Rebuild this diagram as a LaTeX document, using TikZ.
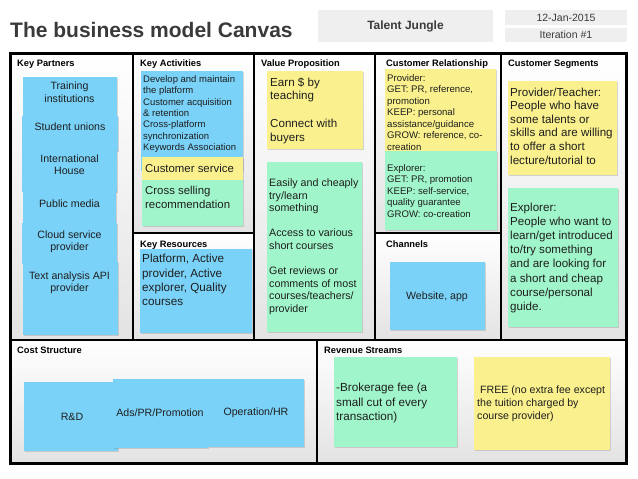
\documentclass[tikz,border=0pt]{standalone}
\usepackage{fontspec}
\setmainfont{Liberation Sans}
\usetikzlibrary{shadows}
\definecolor{noteblue}{RGB}{122,210,248}
\definecolor{noteyellow}{RGB}{250,241,142}
\definecolor{notegreen}{RGB}{160,246,202}
\definecolor{notetext}{RGB}{30,30,30}
\definecolor{titlegray}{RGB}{58,58,58}
\definecolor{boxgray}{RGB}{239,239,239}
\begin{document}
\begin{tikzpicture}[x=1pt,y=-1pt,
  note/.style={inner sep=0pt, outer sep=0pt, anchor=north west,
    drop shadow={opacity=0.3, shadow xshift=1pt, shadow yshift=-1.2pt}},
  bluenote/.style={note, fill=noteblue},
  yellownote/.style={note, fill=noteyellow},
  greennote/.style={note, fill=notegreen},
  txt/.style={inner sep=0pt, anchor=north west, align=left, text=notetext},
  stxt/.style={inner sep=0pt, anchor=base west, text=notetext},
  ctxt/.style={inner sep=0pt, align=center, text=notetext},
  head/.style={inner sep=0pt, anchor=base west, font=\fontsize{9.3}{11}\selectfont\bfseries},
  cellbg/.style={top color=white, bottom color=black!11},
  frame/.style={line width=3pt, draw=black},
  divider/.style={line width=2pt, draw=black},
  hbox/.style={fill=boxgray, inner sep=0pt, text=titlegray}
]
\useasboundingbox (0,0) rectangle (638,479);

% header
\node[inner sep=0pt, anchor=base west, text=titlegray, font=\fontsize{21}{25}\selectfont\bfseries] (title) at (10,37) {The business model Canvas};
\node[hbox, minimum width=175pt, minimum height=32pt, font=\fontsize{12}{14}\selectfont\bfseries] (proj) at (405.5,26) {Talent Jungle};
\node[hbox, minimum width=122pt, minimum height=15pt, font=\fontsize{10.5}{12}\selectfont] (date) at (566,17.5) {12-Jan-2015};
\node[hbox, minimum width=122pt, minimum height=14pt, font=\fontsize{10.5}{12}\selectfont] (iter) at (566,35) {Iteration \#1};

% cell backgrounds
\fill[cellbg] (10,53) rectangle (133,340);
\fill[cellbg] (133,53) rectangle (254,233);
\fill[cellbg] (133,233) rectangle (254,340);
\fill[cellbg] (254,53) rectangle (375,340);
\fill[cellbg] (375,53) rectangle (501,233);
\fill[cellbg] (375,233) rectangle (501,340);
\fill[cellbg] (501,53) rectangle (626,340);
\fill[cellbg] (10,340) rectangle (317,463);
\fill[cellbg] (317,340) rectangle (626,463);

% dividers
\draw[divider] (133,53) -- (133,340);
\draw[divider] (254,53) -- (254,340);
\draw[divider] (375,53) -- (375,340);
\draw[divider] (501,53) -- (501,340);
\draw[divider] (133,233) -- (254,233);
\draw[divider] (375,233) -- (501,233);
\draw[divider] (10,340) -- (626,340);
\draw[divider] (317,340) -- (317,463);
\draw[frame] (10,53) rectangle (626,463);

% headings
\node[head] (hkp) at (17,66) {Key Partners};
\node[head] (hka) at (140,66) {Key Activities};
\node[head] (hvp) at (261,66) {Value Proposition};
\node[head] (hcr) at (386,66) {Customer Relationship};
\node[head] (hcs) at (508,66) {Customer Segments};
\node[head] (hkr) at (140,247.5) {Key Resources};
\node[head] (hch) at (386,247.5) {Channels};
\node[head] (hco) at (17,353) {Cost Structure};
\node[head] (hrv) at (324,353) {Revenue Streams};

% Key Partners
\node[bluenote, minimum width=94pt, minimum height=41pt] (kp1) at (23,77) {};
\node[bluenote, minimum width=96pt, minimum height=35pt] (kp2) at (22,116) {};
\node[bluenote, minimum width=95pt, minimum height=43pt] (kp3) at (22,149) {};
\node[bluenote, minimum width=93pt, minimum height=35pt] (kp4) at (23,190) {};
\node[bluenote, minimum width=95pt, minimum height=41pt] (kp5) at (22,223) {};
\node[bluenote, minimum width=95pt, minimum height=73pt] (kp6) at (23,262) {};
\begin{scope}[every node/.append style={font=\fontsize{10.6}{12.5}\selectfont}]
\node[ctxt] (kp1t) at (69.5,92) {Training\\institutions};
\node[ctxt] (kp2t) at (70,126.5) {Student unions};
\node[ctxt] (kp3t) at (69.5,164.5) {International\\House};
\node[ctxt] (kp4t) at (69.5,203.5) {Public media};
\node[ctxt] (kp5t) at (69.5,242) {Cloud service\\provider};
\node[ctxt] (kp6t) at (69.5,283) {Text analysis API\\provider};
\end{scope}

% Key Activities
\node[bluenote, minimum width=102pt, minimum height=100pt] (kab) at (141,71) {};
\node[yellownote, minimum width=101pt, minimum height=24pt] (kay) at (142,157) {};
\node[greennote, minimum width=101pt, minimum height=46pt] (kag) at (142,180) {};
\node[txt, font=\fontsize{9.5}{11.3}\selectfont] (kabt) at (143,75.5) {Develop and maintain\\the platform\\Customer acquisition\\\& retention\\Cross-platform\\synchronization\\Keywords Association};
\node[stxt, font=\fontsize{11.4}{14}\selectfont] (kayt) at (145,172) {Customer service};
\node[txt, font=\fontsize{11.4}{14}\selectfont] (kagt) at (145,185.6) {Cross selling\\recommendation};

% Key Resources
\node[bluenote, minimum width=112pt, minimum height=84pt] (krb) at (140,249) {};
\node[txt, font=\fontsize{11.7}{14.2}\selectfont] (krbt) at (142,254.3) {Platform, Active\\provider, Active\\explorer, Quality\\courses};

% Value Proposition
\node[yellownote, minimum width=96pt, minimum height=78pt] (vpy) at (267,71) {};
\node[greennote, minimum width=95pt, minimum height=170pt] (vpg) at (267,162) {};
\node[txt, font=\fontsize{11.6}{13.8}\selectfont] (vpyt) at (270,77.3) {Earn \$ by\\teaching\\[13.8pt]Connect with\\buyers};
\node[txt, font=\fontsize{10.7}{12.6}\selectfont] (vpgt) at (269,178.6) {Easily and cheaply\\try/learn\\something\\[12.6pt]Access to various\\short courses\\[12.6pt]Get reviews or\\comments of most\\courses/teachers/\\provider};

% Customer Relationship
\node[yellownote, minimum width=111pt, minimum height=83pt] (cry) at (385,69) {};
\node[greennote, minimum width=112pt, minimum height=79pt] (crg) at (385,151) {};
\node[txt, font=\fontsize{9.6}{11.5}\selectfont] (cryt) at (387,73.9) {Provider:\\GET: PR, reference,\\promotion\\KEEP: personal\\assistance/guidance\\GROW: reference, co-\\creation};
\node[txt, font=\fontsize{9.6}{11.5}\selectfont] (crgt) at (387,163.9) {Explorer:\\GET: PR, promotion\\KEEP: self-service,\\quality guarantee\\GROW: co-creation};

% Channels
\node[bluenote, minimum width=95pt, minimum height=68pt] (chb) at (390,262) {};
\node[ctxt, font=\fontsize{10.6}{12.5}\selectfont] (chbt) at (437,297) {Website, app};

% Customer Segments
\node[yellownote, minimum width=109pt, minimum height=94pt] (csy) at (508,81) {};
\node[greennote, minimum width=110pt, minimum height=139pt] (csg) at (508,188) {};
\node[txt, font=\fontsize{11.6}{13.6}\selectfont] (csyt) at (510,87.4) {Provider/Teacher:\\People who have\\some talents or\\skills and are willing\\to offer a short\\lecture/tutorial to};
\node[txt, font=\fontsize{11.6}{14.2}\selectfont] (csgt) at (510,202.4) {Explorer:\\People who want to\\learn/get introduced\\to/try something\\and are looking for\\a short and cheap\\course/personal\\guide.};

% Cost Structure
\node[bluenote, minimum width=94pt, minimum height=69pt] (co1) at (24,382) {};
\node[bluenote, minimum width=95pt, minimum height=69pt] (co2) at (113,379) {};
\node[bluenote, minimum width=96pt, minimum height=68pt] (co3) at (208,379) {};
\begin{scope}[every node/.append style={font=\fontsize{10.6}{12.5}\selectfont}]
\node[ctxt] (co1t) at (72,417) {R\&D};
\node[ctxt] (co2t) at (160,413) {Ads/PR/Promotion};
\node[ctxt] (co3t) at (256,413) {Operation/HR};
\end{scope}

% Revenue Streams
\node[greennote, minimum width=123pt, minimum height=90pt] (rvg) at (334,357) {};
\node[yellownote, minimum width=136pt, minimum height=93pt] (rvy) at (474,357) {};
\node[txt, font=\fontsize{11.7}{14.5}\selectfont] (rvgt) at (336,383.3) {-Brokerage fee (a\\small cut of every\\transaction)};
\node[txt, font=\fontsize{10.6}{13}\selectfont] (rvyt) at (477,385.7) {\ FREE (no extra fee except\\the tuition charged by\\course provider)};
\end{tikzpicture}
\end{document}
